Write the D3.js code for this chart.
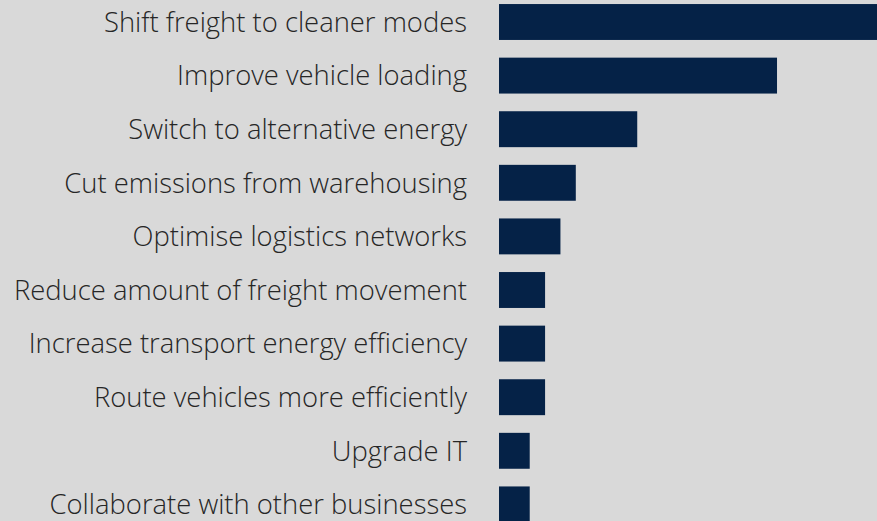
<!DOCTYPE html>
<html>
<head>
<meta charset="utf-8">
<script src="https://cdn.jsdelivr.net/npm/d3@7"></script>
<style>
  html, body { margin: 0; padding: 0; background: #d9d9d9; overflow: hidden; }
  svg { display: block; }
  .label { font-family: "Open Sans", "Lato", sans-serif; font-weight: 300; fill: #262626; }
</style>
</head>
<body>
<div id="chart"></div>
<script>
const categories = [
  "Shift freight to cleaner modes",
  "Improve vehicle loading",
  "Switch to alternative energy",
  "Cut emissions from warehousing",
  "Optimise logistics networks",
  "Reduce amount of freight movement",
  "Increase transport energy efficiency",
  "Route vehicles more efficiently",
  "Upgrade IT",
  "Collaborate with other businesses"
];
const values = [25, 18.1, 9, 5, 4, 3, 3, 3, 2, 2];

const width = 877, height = 521;
const barLeft = 499;
const labelRight = 467;

const svg = d3.select('#chart').append('svg')
  .attr('width', width).attr('height', height);

const y = d3.scaleBand()
  .domain(categories)
  .range([-4.8, 531.2])
  .paddingInner(0.33)
  .paddingOuter(0.165);

const x = d3.scaleLinear()
  .domain([0, 25])
  .range([barLeft, barLeft + 384]);

svg.append('g').selectAll('rect')
  .data(values)
  .join('rect')
  .attr('x', x(0))
  .attr('y', (d, i) => y(categories[i]))
  .attr('width', d => x(d) - x(0))
  .attr('height', y.bandwidth())
  .attr('fill', '#052247');

svg.append('g').selectAll('text')
  .data(categories)
  .join('text')
  .attr('class', 'label')
  .attr('x', labelRight)
  .attr('y', d => y(d) + y.bandwidth() / 2)
  .attr('dy', '0.36em')
  .attr('text-anchor', 'end')
  .attr('font-size', 27.4)
  .text(d => d);
</script>
</body>
</html>
